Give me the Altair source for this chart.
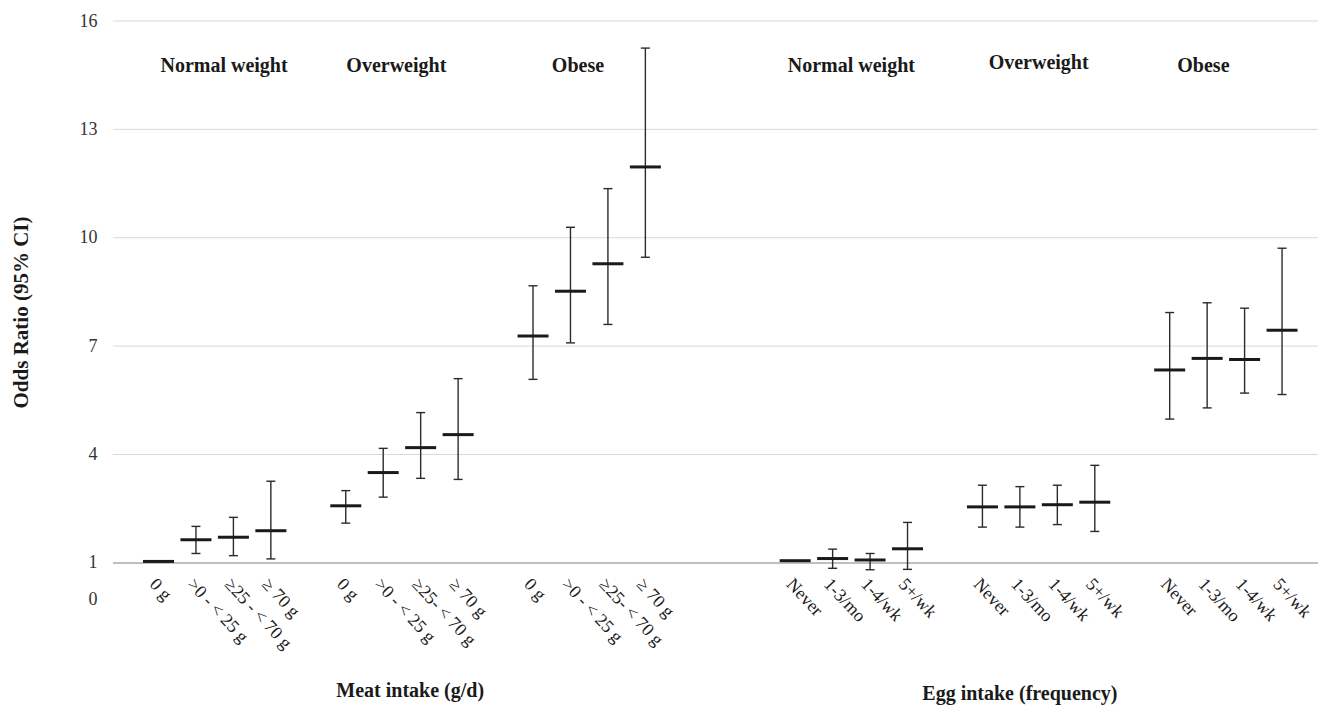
import json
import altair as alt
import pandas as pd

# ---------------- data ----------------
weight_groups = ["Normal weight", "Overweight", "Obese"]
meat_labels = [
    ["0 g", ">0 - < 25 g", "≥25 - < 70 g", "≥ 70 g"],
    ["0 g", ">0 - < 25 g", "≥25- < 70 g", "≥ 70 g"],
    ["0 g", ">0 - < 25 g", "≥25- < 70 g", "≥ 70 g"],
]
egg_labels = ["Never", "1-3/mo", "1-4/wk", "5+/wk"]

meat_or = [1.04, 1.64, 1.71, 1.89, 2.58, 3.50, 4.19, 4.55, 7.28, 8.52, 9.28, 11.96]
meat_lo = [None, 1.26, 1.20, 1.11, 2.10, 2.82, 3.34, 3.31, 6.08, 7.09, 7.60, 9.46]
meat_hi = [None, 2.01, 2.26, 3.26, 3.00, 4.17, 5.16, 6.10, 8.67, 10.29, 11.36, 15.25]

egg_or = [1.06, 1.12, 1.08, 1.39, 2.55, 2.55, 2.61, 2.68, 6.34, 6.66, 6.63, 7.44]
egg_lo = [None, 0.85, 0.81, 0.82, 1.99, 1.99, 2.06, 1.87, 4.98, 5.29, 5.70, 5.66]
egg_hi = [None, 1.38, 1.26, 2.12, 3.15, 3.11, 3.15, 3.70, 7.93, 8.20, 8.05, 9.71]

y_ticks = [0, 1, 4, 7, 10, 13, 16]
grid_vals = [4, 7, 10, 13, 16]
baseline_val = [1]

# ---------------- build tables ----------------
SLOTS_PER_GROUP = 5      # 4 categories + 1 blank slot
EGG_START = 17           # egg block starts after a wider gap
N_SLOTS = 31

rows = []
slot_labels = [""] * N_SLOTS
for g in range(3):
    for i in range(4):
        k = g * 4 + i
        p = g * SLOTS_PER_GROUP + i
        slot_labels[p] = meat_labels[g][i]
        rows.append(dict(pos=p, orv=meat_or[k], lo=meat_lo[k], hi=meat_hi[k]))
        p2 = EGG_START + g * SLOTS_PER_GROUP + i
        slot_labels[p2] = egg_labels[i]
        rows.append(dict(pos=p2, orv=egg_or[k], lo=egg_lo[k], hi=egg_hi[k]))
df = pd.DataFrame(rows)
tick_positions = sorted(df["pos"].tolist())

group_df = pd.DataFrame(dict(
    label=weight_groups + weight_groups,
    x=[1.75, 6.35, 11.2, 18.5, 23.5, 27.9],
    y=[14.6, 14.6, 14.6, 14.6, 14.68, 14.6],
))
title_df = pd.DataFrame(dict(
    label=["Meat intake (g/d)", "Egg intake (frequency)"],
    x=[6.72, 23.0],
    y=[-2.55, -2.62],
))

# ---------------- scales / axes ----------------
FONT = "Liberation Serif"
W, H = 1205, 578
x_scale = alt.Scale(domain=[-1.215, 30.96], nice=False, zero=False)
y_scale = alt.Scale(domain=[0, 16], nice=False, zero=False)

label_expr = json.dumps(slot_labels, ensure_ascii=False) + "[datum.value]"
x_axis = alt.Axis(
    values=tick_positions, labelExpr=label_expr, title="",
    grid=False, domain=False, ticks=False, tickSize=0,
    labelAngle=47, labelAlign="left", labelBaseline="top",
    labelFont=FONT, labelFontSize=18, labelColor="#1a1a1a",
    labelPadding=12, offset=-36, labelOverlap=False, labelFlush=False,
    labelBound=False,
)
y_axis = alt.Axis(
    values=y_ticks, grid=False, domain=False, ticks=False,
    labelFont=FONT, labelFontSize=18, labelColor="#333333", labelPadding=16,
    title="Odds Ratio (95% CI)", titleFont=FONT, titleFontSize=21,
    titleFontWeight="bold", titleColor="#1a1a1a",
    titleX=-92, titleY=291, titleAngle=-90, titleBaseline="middle",
    titleAlign="center",
)


def X(field):
    return alt.X(field, scale=x_scale, axis=x_axis)


def Y(field):
    return alt.Y(field, scale=y_scale, axis=y_axis)


# ---------------- layers ----------------
grid = alt.Chart(pd.DataFrame({"v": grid_vals})).mark_rule(
    color="#d9d9d9", strokeWidth=1
).encode(y=Y("v:Q"))

base_line = alt.Chart(pd.DataFrame({"v": baseline_val})).mark_rule(
    color="#bfbfbf", strokeWidth=2
).encode(y=Y("v:Q"))

base = alt.Chart(df)

whisker = base.mark_rule(color="#2b2b2b", strokeWidth=1.4, opacity=1).encode(
    x=X("pos:Q"), y=Y("lo:Q"), y2="hi:Q",
)
cap_lo = base.mark_tick(orient="horizontal", size=9, thickness=1.4,
                        color="#2b2b2b", opacity=1).encode(x=X("pos:Q"), y=Y("lo:Q"))
cap_hi = base.mark_tick(orient="horizontal", size=9, thickness=1.4,
                        color="#2b2b2b", opacity=1).encode(x=X("pos:Q"), y=Y("hi:Q"))
mean_tick = base.mark_tick(orient="horizontal", size=31, thickness=3,
                           color="#1a1a1a", opacity=1).encode(x=X("pos:Q"), y=Y("orv:Q"))

group_text = alt.Chart(group_df).mark_text(
    font=FONT, fontSize=20, fontWeight="bold", color="#1a1a1a",
    align="center", baseline="alphabetic",
).encode(x=X("x:Q"), y=Y("y:Q"), text="label:N")

title_text = alt.Chart(title_df).mark_text(
    font=FONT, fontSize=20, fontWeight="bold", color="#1a1a1a",
    align="center", baseline="middle",
).encode(x=X("x:Q"), y=Y("y:Q"), text="label:N")

chart = alt.layer(
    grid, base_line, whisker, cap_lo, cap_hi, mean_tick, group_text, title_text
).properties(
    width=W, height=H,
    autosize=alt.AutoSizeParams(type="none"),
    padding={"left": 105, "top": 13, "right": 0, "bottom": 125},
    background="white",
).configure_view(stroke=None)

chart.save("out.html", embed_options={"renderer": "svg", "actions": False})
